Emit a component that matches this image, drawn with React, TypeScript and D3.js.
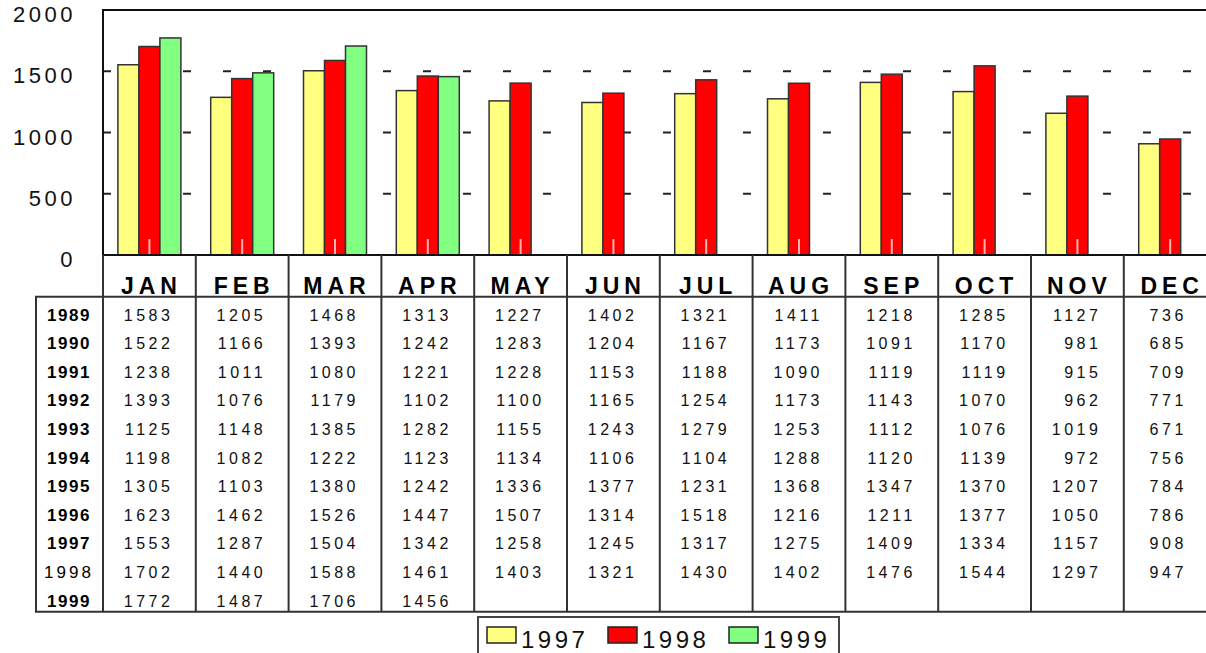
import React, { useEffect, useRef } from "react";
import * as d3 from "d3";

const MONTHS = ["JAN", "FEB", "MAR", "APR", "MAY", "JUN", "JUL", "AUG", "SEP", "OCT", "NOV", "DEC"];
const YEARS = ["1989", "1990", "1991", "1992", "1993", "1994", "1995", "1996", "1997", "1998", "1999"];
const BOLD_YEARS = ["1989", "1990", "1991", "1992", "1993", "1994", "1995", "1996", "1997", "1999"];

const v1989 = [1583, 1205, 1468, 1313, 1227, 1402, 1321, 1411, 1218, 1285, 1127, 736];
const v1990 = [1522, 1166, 1393, 1242, 1283, 1204, 1167, 1173, 1091, 1170, 981, 685];
const v1991 = [1238, 1011, 1080, 1221, 1228, 1153, 1188, 1090, 1119, 1119, 915, 709];
const v1992 = [1393, 1076, 1179, 1102, 1100, 1165, 1254, 1173, 1143, 1070, 962, 771];
const v1993 = [1125, 1148, 1385, 1282, 1155, 1243, 1279, 1253, 1112, 1076, 1019, 671];
const v1994 = [1198, 1082, 1222, 1123, 1134, 1106, 1104, 1288, 1120, 1139, 972, 756];
const v1995 = [1305, 1103, 1380, 1242, 1336, 1377, 1231, 1368, 1347, 1370, 1207, 784];
const v1996 = [1623, 1462, 1526, 1447, 1507, 1314, 1518, 1216, 1211, 1377, 1050, 786];
const v1997 = [1553, 1287, 1504, 1342, 1258, 1245, 1317, 1275, 1409, 1334, 1157, 908];
const v1998 = [1702, 1440, 1588, 1461, 1403, 1321, 1430, 1402, 1476, 1544, 1297, 947];
const v1999 = [1772, 1487, 1706, 1456];

const TABLE = [v1989, v1990, v1991, v1992, v1993, v1994, v1995, v1996, v1997, v1998, v1999];

const SERIES = ["1997", "1998", "1999"];
const SERIES_VALUES = [v1997, v1998, v1999];
const COLORS = ["#ffff80", "#ff0000", "#80ff80"];
const Y_TICKS = [0, 500, 1000, 1500, 2000];

const FONT = "'Liberation Sans', Arial, sans-serif";

const App = () => {
  const ref = useRef<HTMLDivElement>(null);

  useEffect(() => {
    const WIDTH = 1206;
    const HEIGHT = 653;
    const LEFT = 103;
    const TOP = 10;
    const BASE = 255;
    const COL_W = 92.8;
    const TABLE_LEFT = 36;
    const HEADER_BOTTOM = 296.7;
    const TABLE_BOTTOM = 611.7;
    const ROW_H = 28.6;
    const LINE = "#333";

    d3.select(ref.current).selectAll("*").remove();
    const svg = d3
      .select(ref.current)
      .append("svg")
      .attr("width", WIDTH)
      .attr("height", HEIGHT)
      .style("display", "block")
      .style("font-family", FONT);

    const x = d3.scaleBand().domain(MONTHS).range([LEFT, LEFT + COL_W * 12]).padding(0);
    const inner = d3.scaleBand().domain(SERIES).range([14.9, COL_W - 14.9]).padding(0);
    const y = d3.scaleLinear().domain([0, 2000]).range([BASE, TOP]);

    /* dashed grid */
    svg
      .append("g")
      .selectAll("line")
      .data(Y_TICKS.slice(1))
      .join("line")
      .attr("x1", LEFT)
      .attr("x2", WIDTH)
      .attr("y1", (d) => y(d))
      .attr("y2", (d) => y(d))
      .attr("stroke", "#222")
      .attr("stroke-width", 2)
      .attr("stroke-dasharray", "8 32");

    /* bars */
    SERIES.forEach((s, si) => {
      svg
        .append("g")
        .selectAll("rect")
        .data(SERIES_VALUES[si])
        .join("rect")
        .attr("x", (d, i) => (x(MONTHS[i]) as number) + (inner(s) as number))
        .attr("y", (d) => y(d))
        .attr("width", inner.bandwidth())
        .attr("height", (d) => BASE - y(d))
        .attr("fill", COLORS[si])
        .attr("stroke", "#333")
        .attr("stroke-width", 1.5);
    });

    /* light category ticks */
    svg
      .append("g")
      .selectAll("line")
      .data(MONTHS)
      .join("line")
      .attr("x1", (d) => (x(d) as number) + COL_W / 2)
      .attr("x2", (d) => (x(d) as number) + COL_W / 2)
      .attr("y1", BASE - 16)
      .attr("y2", BASE)
      .attr("stroke", "#fff")
      .attr("stroke-opacity", 0.7)
      .attr("stroke-width", 2);

    /* plot frame */
    svg
      .append("path")
      .attr("d", `M${WIDTH},${TOP}H${LEFT}V${BASE}H${WIDTH}`)
      .attr("fill", "none")
      .attr("stroke", "#111")
      .attr("stroke-width", 2);

    /* y labels */
    svg
      .append("g")
      .selectAll("text")
      .data(Y_TICKS)
      .join("text")
      .attr("x", 76)
      .attr("y", (d) => y(d) + 12)
      .attr("text-anchor", "end")
      .attr("font-size", 22)
      .attr("letter-spacing", 3.5)
      .attr("fill", "#111")
      .text((d) => d);

    /* table lines */
    const grid = svg.append("g").attr("stroke", LINE).attr("stroke-width", 2).attr("fill", "none");
    grid
      .selectAll("line.col")
      .data(d3.range(13))
      .join("line")
      .attr("class", "col")
      .attr("x1", (i) => LEFT + COL_W * i)
      .attr("x2", (i) => LEFT + COL_W * i)
      .attr("y1", BASE)
      .attr("y2", TABLE_BOTTOM);
    grid
      .append("path")
      .attr(
        "d",
        `M${WIDTH},${HEADER_BOTTOM}H${TABLE_LEFT}V${TABLE_BOTTOM}H${WIDTH}`
      );

    /* month headers */
    svg
      .append("g")
      .selectAll("text")
      .data(MONTHS)
      .join("text")
      .attr("x", (d) => (x(d) as number) + COL_W / 2 + 2)
      .attr("y", 294)
      .attr("text-anchor", "middle")
      .attr("font-size", 23)
      .attr("font-weight", "bold")
      .attr("letter-spacing", 5)
      .text((d) => d);

    /* row labels */
    svg
      .append("g")
      .selectAll("text")
      .data(YEARS)
      .join("text")
      .attr("x", 69)
      .attr("y", (d, i) => 320.5 + i * ROW_H)
      .attr("text-anchor", "middle")
      .attr("font-size", 17)
      .attr("font-weight", (d) => (BOLD_YEARS.includes(d) ? "bold" : "normal"))
      .attr("letter-spacing", (d) => (BOLD_YEARS.includes(d) ? 1.5 : 3))
      .text((d) => d);

    /* table values */
    const cells = svg.append("g").attr("font-size", 16).attr("letter-spacing", 3.5).attr("fill", "#111");
    TABLE.forEach((row, ri) => {
      row.forEach((v, ci) => {
        const col = TABLE.map((r) => r[ci]).filter((n) => n !== undefined);
        const allShort = col.every((n) => n < 1000);
        const cx = (x(MONTHS[ci]) as number) + COL_W / 2;
        cells
          .append("text")
          .attr("x", allShort ? cx - 2 : cx + 24)
          .attr("y", 320.5 + ri * ROW_H)
          .attr("text-anchor", allShort ? "middle" : "end")
          .text(v);
      });
    });

    /* legend */
    const legend = svg.append("g");
    legend
      .append("rect")
      .attr("x", 478)
      .attr("y", 617)
      .attr("width", 361)
      .attr("height", 50)
      .attr("fill", "#fff")
      .attr("stroke", "#444")
      .attr("stroke-width", 2);
    const items = legend
      .selectAll("g")
      .data(SERIES)
      .join("g")
      .attr("transform", (d, i) => `translate(${487 + i * 121},0)`);
    items
      .append("rect")
      .attr("x", 0)
      .attr("y", 627)
      .attr("width", 29)
      .attr("height", 16)
      .attr("fill", (d, i) => COLORS[i])
      .attr("stroke", "#222")
      .attr("stroke-width", 1.5);
    items
      .append("text")
      .attr("x", 34)
      .attr("y", 648)
      .attr("font-size", 24)
      .attr("letter-spacing", 3.5)
      .attr("fill", "#111")
      .text((d) => d);
  }, []);

  return <div ref={ref} style={{ position: "absolute", left: 0, top: 0 }} />;
};

export default App;
